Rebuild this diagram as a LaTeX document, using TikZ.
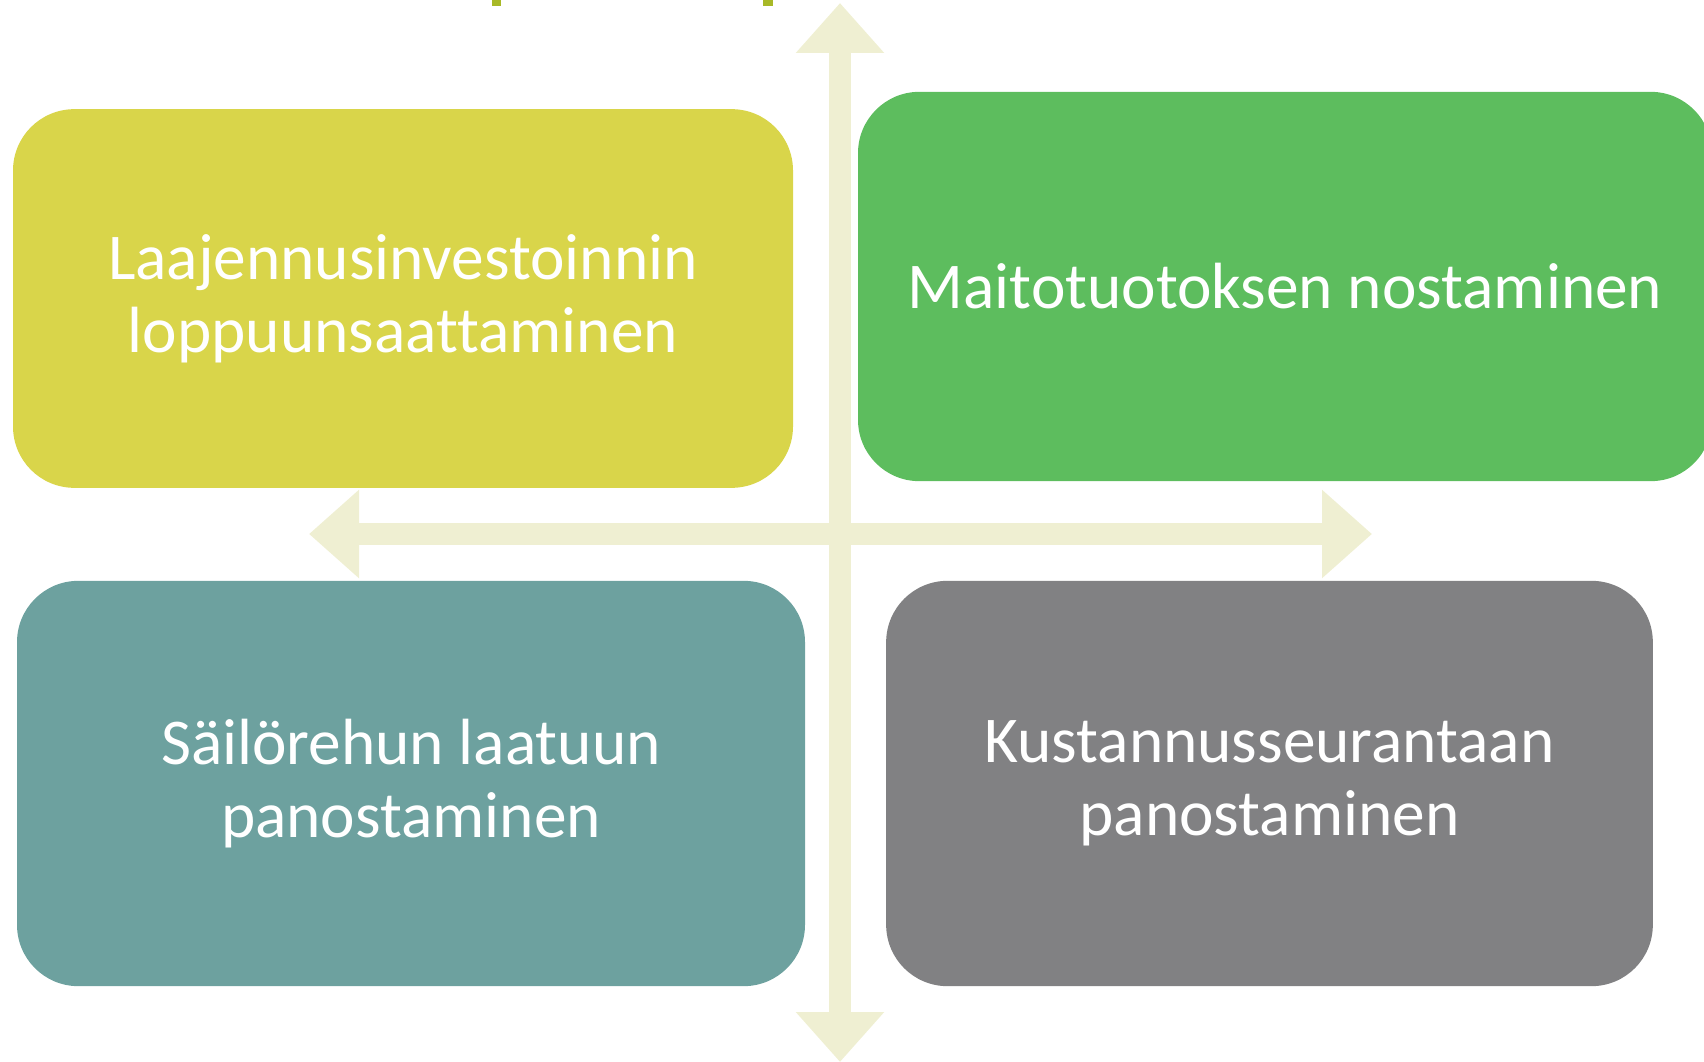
\documentclass[tikz,border=0pt]{standalone}
\usepackage{fontspec}
\setmainfont[Ligatures={NoCommon}]{Carlito}
\usetikzlibrary{arrows.meta}

\definecolor{kelta}{RGB}{217,213,74}
\definecolor{vihrea}{RGB}{93,189,94}
\definecolor{turkoosi}{RGB}{109,161,159}
\definecolor{harmaa}{RGB}{129,129,131}
\definecolor{nuoli}{RGB}{239,239,210}
\definecolor{otsikko}{RGB}{168,185,39}

\tikzset{every picture/.style={line width=0.75pt}}
\tikzset{
  laatikko/.style={rounded corners=46pt, inner sep=0pt, align=center, text=white,
    font=\fontsize{49}{55}\selectfont},
  akseli/.style={draw=nuoli, line width=16.5pt,
    {Triangle[length=37.5pt,width=64pt]}-{Triangle[length=37.5pt,width=64pt]}}
}

\begin{document}
\begin{tikzpicture}[x=0.75pt,y=0.75pt,yscale=-1,xscale=1]
\useasboundingbox (0,0) rectangle (1704,1062);

%Title remains
\fill [otsikko] (492,0) rectangle (501,6) ;
\fill [otsikko] (763,0) rectangle (773,6) ;

%Axis ends
\coordinate (ylos) at (840,3);
\coordinate (alas) at (840,1062);
\coordinate (vasen) at (309,534);
\coordinate (oikea) at (1372,534);

%Axes
\draw [akseli] (alas) -- (ylos) ;
\draw [akseli] (vasen) -- (oikea) ;

% Boxes
\node [laatikko, fill=kelta, minimum width=585pt, minimum height=284pt] (laaj) at (403,298.5)
  {Laajennusinvestoinnin\\loppuunsaattaminen};
\node [laatikko, fill=vihrea, minimum width=640.5pt, minimum height=292pt] (maito) at (1285,286.5)
  {Maitotuotoksen nostaminen};
\node [laatikko, fill=turkoosi, minimum width=591pt, minimum height=304pt] (sailo) at (411,783.5)
  {Säilörehun laatuun\\panostaminen};
\node [laatikko, fill=harmaa, minimum width=575pt, minimum height=304pt] (kust) at (1269.5,783.5)
  {Kustannusseurantaan\\panostaminen};

\end{tikzpicture}
\end{document}
